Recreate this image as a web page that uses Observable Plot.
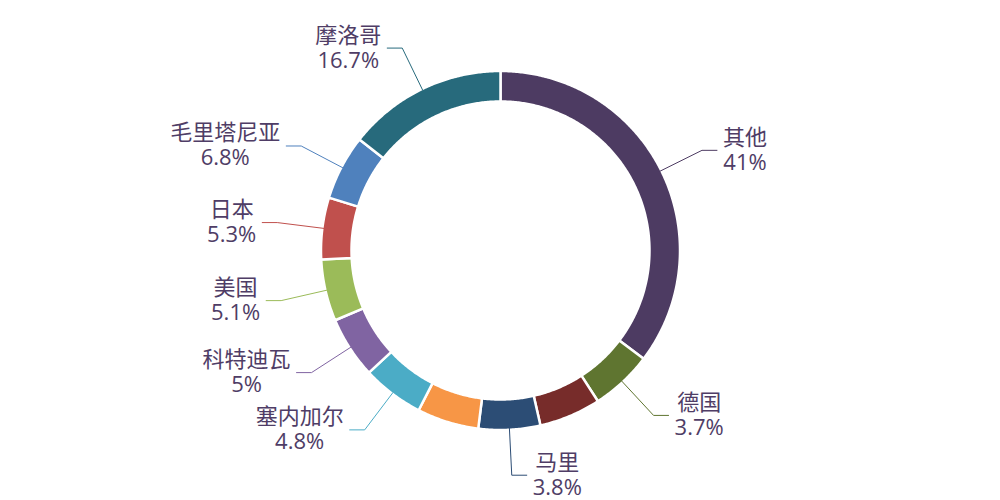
<!DOCTYPE html>
<html><head><meta charset="utf-8">
<script src="https://cdn.jsdelivr.net/npm/d3@7"></script>
<script src="https://cdn.jsdelivr.net/npm/@observablehq/plot@0.6"></script>
<style>body{margin:0;background:#fff} #chart{width:1000px;height:500px}</style>
</head><body><div id="chart"></div>
<script>
// Data (clockwise from top)
const names  = ["其他","德国","","马里","","塞内加尔","科特迪瓦","美国","日本","毛里塔尼亚","摩洛哥"];
const values = [41, 3.7, 3.9, 3.8, 3.9, 4.8, 5, 5.1, 5.3, 6.8, 16.7];
const pctLabels = ["41%","3.7%","","3.8%","","4.8%","5%","5.1%","5.3%","6.8%","16.7%"];
const colors = ["#4d3b62","#5f7530","#772c2a","#2c4d75","#f79646","#4bacc6","#8064a2","#9bbb59","#c0504d","#4f81bd","#276a7c"];

const textColor = "#4f3d66";
const fontFamily = "'Open Sans', 'Noto Sans CJK SC', sans-serif";
const fontSize = 22;
const R = 179.5, r0 = 149, Rvis = 178;
const minAngle = 20;

// minAngle layout (as in the original pie)
const total = d3.sum(values);
const raw = values.map(v => v / total * 360);
let rest = 360, sumLarge = 0;
raw.forEach((a, i) => { if (a < minAngle) rest -= minAngle; else sumLarge += values[i]; });
const angles = values.map((v, i) => raw[i] < minAngle ? minAngle : rest * v / sumLarge);
const starts = [];
angles.reduce((acc, a) => { starts.push(acc); return acc + a; }, 0);

const pt = (rad, deg) => { const t = deg * Math.PI / 180; return {x: rad * Math.sin(t), y: -rad * Math.cos(t)}; };

const marks = [];
values.forEach((v, i) => {
  const a0 = starts[i], a1 = a0 + angles[i];
  const n = Math.max(8, Math.ceil(angles[i] * 2));
  const pts = [];
  for (let k = 0; k <= n; k++) pts.push(pt(R, a0 + (a1 - a0) * k / n));
  for (let k = n; k >= 0; k--) pts.push(pt(r0, a0 + (a1 - a0) * k / n));
  pts.push(pts[0]);
  marks.push(Plot.line(pts, {x: "x", y: "y", fill: colors[i], stroke: "white", strokeWidth: 2.5, curve: "linear"}));
});

// measure text
const ctx = document.createElement("canvas").getContext("2d");
ctx.font = `${fontSize}px ${fontFamily}`;
const texts = [];
values.forEach((v, i) => {
  if (!names[i]) return;
  const mid = starts[i] + angles[i] / 2;
  const p0 = pt(Rvis, mid), p1 = pt(Rvis + 47, mid);
  const right = Math.sin(mid * Math.PI / 180) >= 0;
  const p2 = {x: p1.x + (right ? 15 : -15), y: p1.y};
  marks.push(Plot.line([p0, p1, p2], {x: "x", y: "y", stroke: colors[i], strokeWidth: 1}));
  const w = Math.max(ctx.measureText(names[i]).width, ctx.measureText(pctLabels[i]).width);
  const cx = p2.x + (right ? 1 : -1) * (6 + w / 2);
  texts.push({x: cx, y: p2.y - 1, t: names[i] + "\n" + pctLabels[i]});
});
marks.push(Plot.text(texts, {x: "x", y: "y", text: "t", textAnchor: "middle", lineAnchor: "middle",
  lineHeight: 25 / fontSize, fontSize, fontFamily, fill: textColor}));

const chart = Plot.plot({
  width: 1000, height: 500, margin: 0,
  x: {domain: [-500, 500], range: [0, 1000], axis: null},
  y: {domain: [-250, 250], range: [0, 500], axis: null},
  style: {background: "white"},
  marks
});
document.getElementById("chart").append(chart);
</script>
</body></html>
